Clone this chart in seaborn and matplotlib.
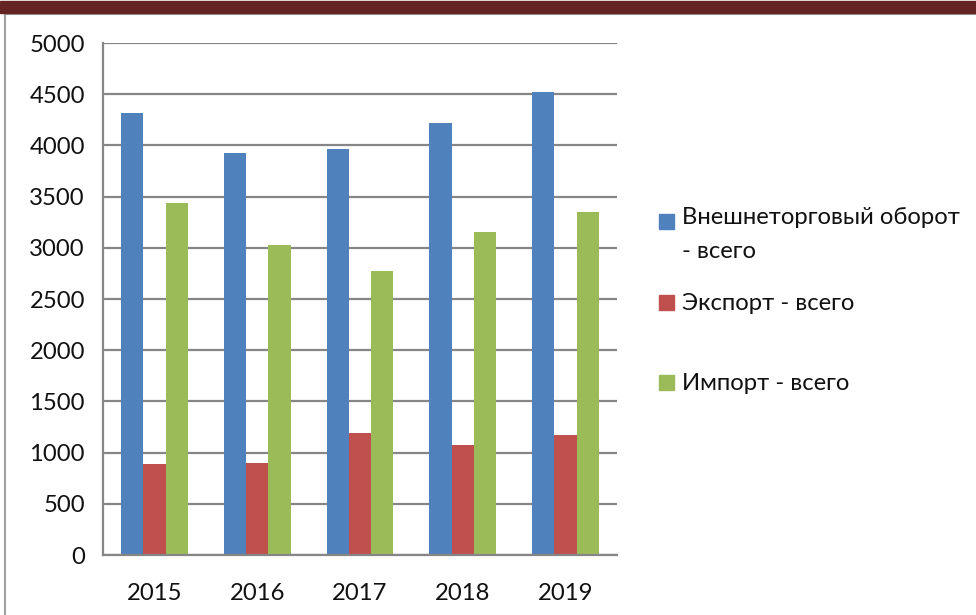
import pandas as pd
import seaborn as sns
import matplotlib.pyplot as plt
from matplotlib.patches import Rectangle

# values
years = ["2015", "2016", "2017", "2018", "2019"]
turnover = [4320, 3925, 3967, 4222, 4519]
exports = [885, 895, 1194, 1071, 1172]
imports = [3435, 3030, 2773, 3151, 3347]
series = ["Внешнеторговый оборот\n- всего", "Экспорт - всего", "Импорт - всего"]
colors = ["#4F81BD", "#C0504D", "#9BBB59"]

df = pd.DataFrame({
    "year": years * 3,
    "value": turnover + exports + imports,
    "series": [series[0]] * 5 + [series[1]] * 5 + [series[2]] * 5,
})

sns.set_style("white")
plt.rcParams["font.family"] = ["Lato", "DejaVu Sans"]
grid_c = "#868686"
fs = 17.2

fig = plt.figure(figsize=(9.76, 6.15), dpi=100)
ax = fig.add_axes([103 / 976, 1 - 555 / 615, 514 / 976, 512 / 615])

sns.barplot(data=df, x="year", y="value", hue="series", palette=colors,
            width=0.65, saturation=1, linewidth=0, legend=False, ax=ax)

ax.set_ylim(0, 5000)
ax.set_xlim(-0.5, 4.5)
ax.set_yticks(range(0, 5001, 500))
ax.yaxis.grid(True, color=grid_c, linewidth=1.6)
ax.set_axisbelow(True)
ax.set_xlabel("")
ax.set_ylabel("")
for s in ["top", "right"]:
    ax.spines[s].set_visible(False)
for s in ["left", "bottom"]:
    ax.spines[s].set_color(grid_c)
    ax.spines[s].set_linewidth(1.6)
ax.tick_params(axis="y", length=7, width=1.6, color=grid_c, labelsize=fs, pad=6,
               labelcolor="#111111")
ax.tick_params(axis="x", which="major", length=0, labelsize=fs, pad=20,
               labelcolor="#111111")
ax.set_xticks([i - 0.5 for i in range(6)], minor=True)
ax.tick_params(axis="x", which="minor", length=8, width=1.6, color=grid_c, direction="out")

# legend drawn Excel style, entries evenly spaced
leg_y = [222, 303, 383]
for lab, c, yy in zip(series, colors, leg_y):
    fig.patches.append(Rectangle((659 / 976, 1 - (yy + 7) / 615), 15 / 976, 15 / 615,
                                 transform=fig.transFigure, color=c))
    fig.text(682 / 976, 1 - yy / 615, lab, fontsize=fs, va="top" if "\n" in lab else "center",
             ha="left", linespacing=1.75, color="#111111")
# first label has two lines, top aligned
fig.texts[0].set_position((682 / 976, 1 - 207 / 615))

# frame and dark band above it
fig.patches.append(Rectangle((5 / 976, -0.05), 1.1, 1 - 14 / 615 + 0.05,
                             transform=fig.transFigure, fill=False,
                             edgecolor="#A0A0A0", linewidth=1.5))
fig.patches.append(Rectangle((0, 1 - 13 / 615), 1, 9 / 615,
                             transform=fig.transFigure, color="#632423"))
fig.patches.append(Rectangle((0, 1 - 3 / 615), 1, 2 / 615,
                             transform=fig.transFigure, color="#632423"))

fig.savefig("out.png", dpi=100)
